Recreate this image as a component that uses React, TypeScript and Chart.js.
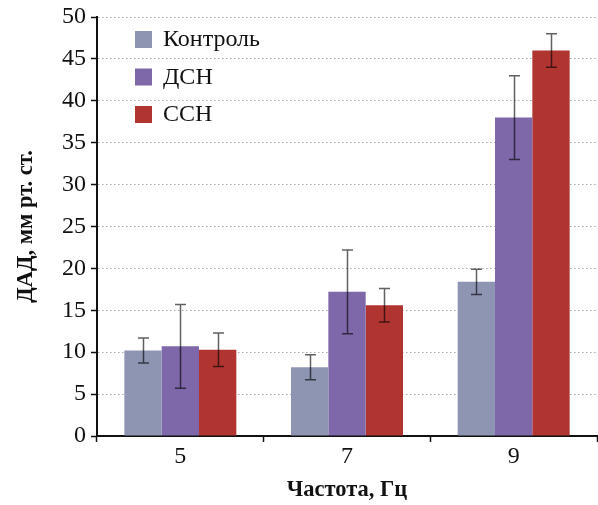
import React, { useEffect, useRef } from "react";
import { Chart, registerables } from "chart.js";

Chart.register(...registerables);

const categories = ["5", "7", "9"];
const seriesNames = ["Контроль", "ДСН", "ССН"];
const controlValues = [10.2, 8.2, 18.4];
const dsnValues = [10.7, 17.2, 38.0];
const ssnValues = [10.3, 15.6, 46.0];
const controlErrors = [1.5, 1.5, 1.5];
const dsnErrors = [5.0, 5.0, 5.0];
const ssnErrors = [2.0, 2.0, 2.0];
const seriesColors = ["#8e95b3", "#7e68aa", "#b03531"];
const yMin = 0;
const yMax = 50;
const yStep = 5;
const xTitle = "Частота, Гц";
const yTitle = "ДАД, мм рт. ст.";

const FONT = "'Liberation Serif', 'Times New Roman', serif";

const errorBarPlugin = {
  id: "errorBars",
  afterDatasetsDraw(chart: any) {
    const ctx = chart.ctx;
    const yScale = chart.scales.y;
    chart.data.datasets.forEach((ds: any, i: number) => {
      const meta = chart.getDatasetMeta(i);
      const errs: number[] = ds.errors || [];
      meta.data.forEach((bar: any, j: number) => {
        const v = ds.data[j];
        const e = errs[j];
        if (e == null) return;
        const yTop = yScale.getPixelForValue(v + e);
        const yBot = yScale.getPixelForValue(v - e);
        const x = Math.round(bar.x) + 0.5;
        ctx.save();
        ctx.strokeStyle = "rgba(0,0,0,0.62)";
        ctx.lineWidth = 1.5;
        ctx.beginPath();
        ctx.moveTo(x, yTop);
        ctx.lineTo(x, yBot);
        ctx.moveTo(x - 5.5, yTop);
        ctx.lineTo(x + 5.5, yTop);
        ctx.moveTo(x - 5.5, yBot);
        ctx.lineTo(x + 5.5, yBot);
        ctx.stroke();
        ctx.restore();
      });
    });
  },
};

const insideLegendPlugin = {
  id: "insideLegend",
  afterDraw(chart: any) {
    const ctx = chart.ctx;
    const area = chart.chartArea;
    ctx.save();
    ctx.font = `24px ${FONT}`;
    ctx.textBaseline = "middle";
    ctx.textAlign = "left";
    chart.data.datasets.forEach((ds: any, i: number) => {
      const bx = area.left + 38;
      const by = area.top + 14 + i * 37.5;
      ctx.fillStyle = ds.backgroundColor;
      ctx.fillRect(bx, by, 17, 17);
      ctx.fillStyle = "#111";
      ctx.fillText(ds.label, bx + 28, by + 9);
    });
    ctx.restore();
  },
};

export default function App() {
  const canvasRef = useRef<HTMLCanvasElement | null>(null);

  useEffect(() => {
    if (!canvasRef.current) return;
    Chart.defaults.font.family = FONT;
    Chart.defaults.color = "#111";
    const valueSets = [controlValues, dsnValues, ssnValues];
    const errorSets = [controlErrors, dsnErrors, ssnErrors];
    const chart = new Chart(canvasRef.current, {
      type: "bar",
      data: {
        labels: categories,
        datasets: seriesNames.map((name, i) => ({
          label: name,
          data: valueSets[i],
          errors: errorSets[i],
          backgroundColor: seriesColors[i],
          borderWidth: 0,
          categoryPercentage: 0.672,
          barPercentage: 1.0,
        })) as any,
      },
      options: {
        animation: false,
        responsive: false,
        maintainAspectRatio: false,
        layout: { padding: { top: 17, right: 1, left: 0, bottom: 0 } },
        plugins: {
          legend: { display: false },
          tooltip: { enabled: false },
        },
        scales: {
          x: {
            offset: true,
            grid: {
              display: true,
              offset: true,
              drawOnChartArea: false,
              drawTicks: true,
              tickLength: 6,
              color: "#111",
              tickWidth: 1.5,
            },
            border: { display: true, color: "#111", width: 2 },
            ticks: { font: { size: 24 }, color: "#111", padding: 0 },
            title: {
              display: true,
              text: xTitle,
              font: { size: 22.5, weight: "bold" },
              color: "#111",
              padding: { top: 0, bottom: 1 },
            },
            afterFit(scale: any) {
              scale.height = 69;
              scale.paddingLeft = 0;
              scale.paddingRight = 0;
            },
          },
          y: {
            min: yMin,
            max: yMax,
            ticks: { stepSize: yStep, font: { size: 24 }, color: "#111", padding: 5 },
            grid: {
              display: true,
              color: "#aaaaaa",
              lineWidth: 1,
              tickColor: "#111",
              tickWidth: 1.5,
              tickLength: 6,
              drawTicks: true,
            },
            border: { display: true, color: "#111", width: 2, dash: [1.5, 2.5] },
            title: {
              display: true,
              text: yTitle,
              font: { size: 22.5, weight: "bold" },
              color: "#111",
              padding: { top: 13, bottom: 0 },
            },
            afterFit(scale: any) {
              scale.width = 97;
              scale.paddingTop = 0;
              scale.paddingBottom = 0;
            },
          },
        },
      } as any,
      plugins: [errorBarPlugin, insideLegendPlugin],
    });
    return () => chart.destroy();
  }, []);

  return (
    <div style={{ position: "fixed", left: 0, top: 0, width: 598, height: 505, background: "#fff" }}>
      <canvas ref={canvasRef} width={598} height={505} style={{ display: "block" }} />
    </div>
  );
}
